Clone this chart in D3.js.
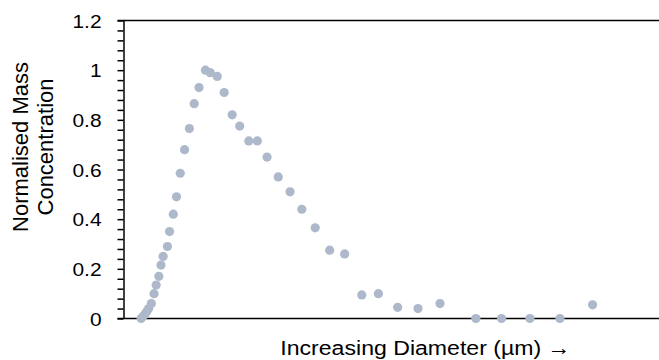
<!DOCTYPE html>
<html>
<head>
<meta charset="utf-8">
<script src="https://cdn.jsdelivr.net/npm/d3@7"></script>
<style>
  body { margin: 0; background: #fff; }
  svg { display: block; }
  text { font-family: "Liberation Sans", Arial, sans-serif; fill: #000; }
</style>
</head>
<body>
<div id="chart"></div>
<script>
// diameter axis is unlabelled, so x is in arbitrary units (0-100)
const diameter = [3.3, 3.7, 4.1, 4.4, 4.7, 5.2, 5.7, 6.1, 6.6, 7.0, 7.4, 8.2, 8.6, 9.3, 9.9,
  10.6, 11.4, 12.3, 13.2, 14.1, 15.3, 16.2, 17.5, 18.8, 20.3, 21.7, 23.4, 25.0, 26.8, 28.9,
  31.1, 33.3, 35.8, 38.5, 41.3, 44.5, 47.6, 51.2, 55.0, 59.1, 65.8, 70.6, 75.9, 81.5, 87.6];
const massConc = [0.00, 0.01, 0.02, 0.03, 0.04, 0.06, 0.10, 0.135, 0.17, 0.215, 0.25, 0.29, 0.35, 0.42, 0.49,
  0.585, 0.68, 0.765, 0.865, 0.93, 1.00, 0.99, 0.975, 0.91, 0.82, 0.775, 0.715, 0.715, 0.65, 0.57,
  0.51, 0.44, 0.365, 0.275, 0.26, 0.095, 0.10, 0.045, 0.04, 0.06, 0.00, 0.00, 0.00, 0.00, 0.055];
const yTicks = [0, 0.2, 0.4, 0.6, 0.8, 1, 1.2];

const W = 659, H = 360;
const margin = {top: 20.5, right: 0, bottom: 41.5, left: 123.5};
const width = W - margin.left - margin.right;
const height = H - margin.top - margin.bottom;
const sx = 1.1; // the reference text is a little wide

const svg = d3.select('#chart').append('svg')
  .attr('width', W)
  .attr('height', H);

const g = svg.append('g')
  .attr('transform', 'translate(' + margin.left + ',' + margin.top + ')');

const x = d3.scaleLinear().domain([0, 100]).range([0, width]);
const y = d3.scaleLinear().domain([0, 1.2]).range([height, 0]);

// minor ticks every 0.04, labels only on the majors
const minor = d3.range(0, 1.2001, 0.04).map(v => +v.toFixed(2));
const yAxis = d3.axisLeft(y)
  .tickValues(minor)
  .tickSize(6)
  .tickSizeOuter(0)
  .tickFormat(d => yTicks.some(t => Math.abs(t - d) < 1e-6) ? d3.format('')(d) : '');

const ya = g.append('g').call(yAxis);
ya.select('.domain').attr('stroke', '#000').attr('stroke-width', 1.5);
ya.selectAll('.tick line').attr('stroke', '#000').attr('stroke-width', 1.5);
ya.selectAll('.tick text')
  .style('font-size', '19px')
  .attr('x', -22 / sx)
  .attr('dy', '0.35em')
  .attr('transform', 'scale(' + sx + ',1)');

// top border and baseline
g.append('line')
  .attr('x1', -6).attr('x2', width)
  .attr('y1', y(1.2)).attr('y2', y(1.2))
  .attr('stroke', '#000').attr('stroke-width', 1.5);
g.append('line')
  .attr('x1', -6).attr('x2', width)
  .attr('y1', y(0)).attr('y2', y(0))
  .attr('stroke', '#000').attr('stroke-width', 1.5);

// points
g.selectAll('circle.pt')
  .data(diameter)
  .enter().append('circle')
  .attr('class', 'pt')
  .attr('cx', d => x(d))
  .attr('cy', (d, i) => y(massConc[i]))
  .attr('r', 4.6)
  .attr('fill', '#adb9ca');

// axis titles
const yl = svg.append('text')
  .attr('transform', 'translate(28,147) rotate(-90)')
  .attr('text-anchor', 'middle')
  .style('font-size', '22px');
yl.append('tspan').attr('x', 0).attr('y', 0).text('Normalised Mass');
yl.append('tspan').attr('x', 0).attr('y', 25).text('Concentration');

svg.append('text')
  .attr('transform', 'translate(425.5,355) scale(' + sx + ',1)')
  .attr('text-anchor', 'middle')
  .style('font-size', '21px')
  .text('Increasing Diameter (\u00b5m) \u2192');
</script>
</body>
</html>
